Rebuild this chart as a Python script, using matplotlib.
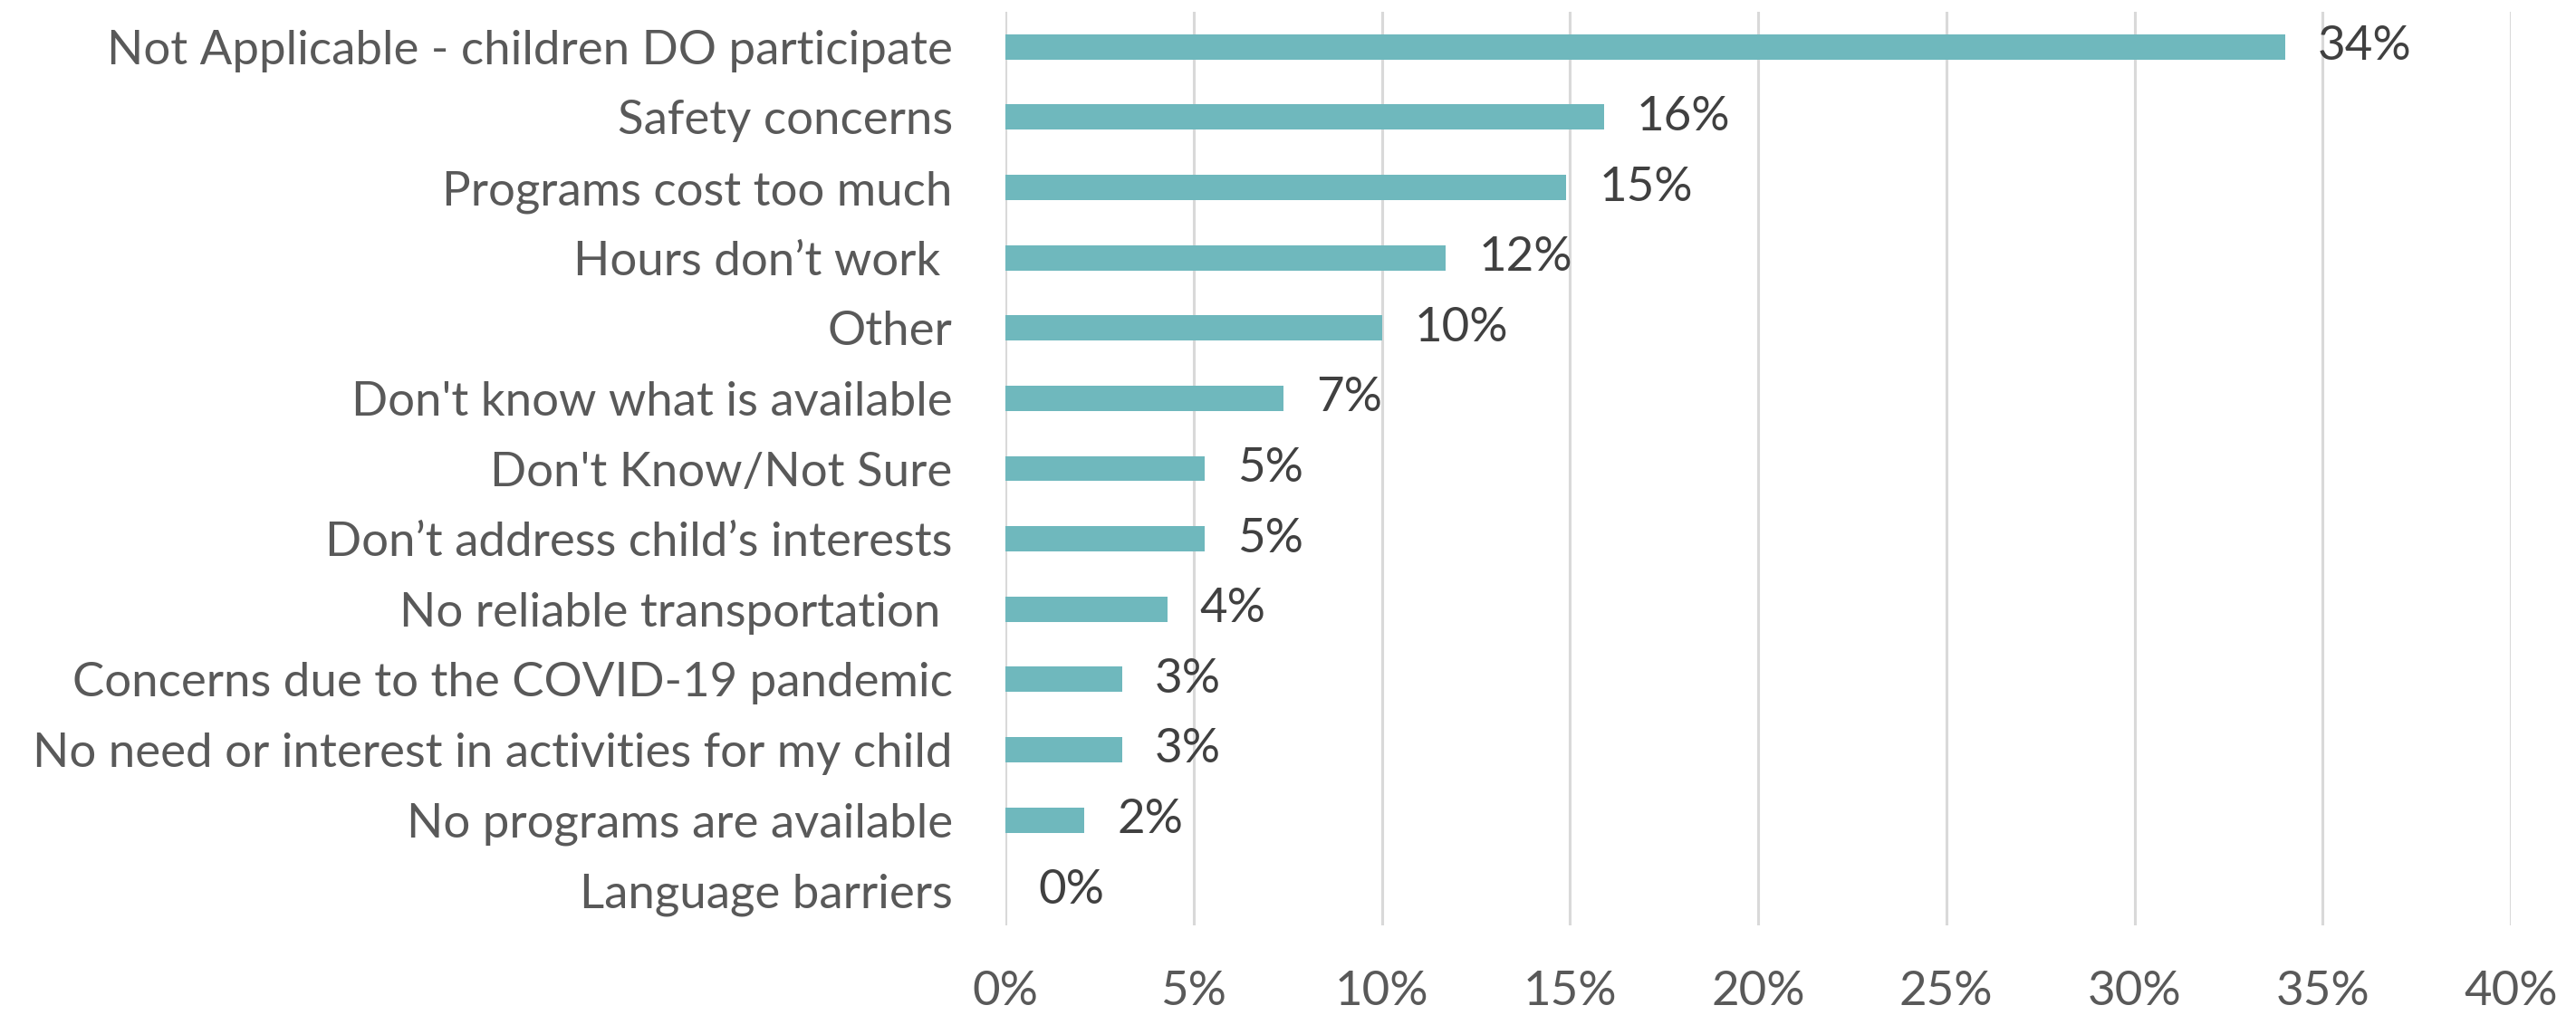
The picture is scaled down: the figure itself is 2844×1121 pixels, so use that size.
import matplotlib.pyplot as plt

# reasons children don't take part in activities (share of responses, %)
reasons = [
    "Not Applicable - children DO participate",
    "Safety concerns",
    "Programs cost too much",
    "Hours don\u2019t work ",
    "Other",
    "Don't know what is available",
    "Don't Know/Not Sure",
    "Don\u2019t address child\u2019s interests",
    "No reliable transportation ",
    "Concerns due to the COVID-19 pandemic",
    "No need or interest in activities for my child",
    "No programs are available",
    "Language barriers",
]
shares = [34.0, 15.9, 14.9, 11.7, 10.0, 7.4, 5.3, 5.3, 4.3, 3.1, 3.1, 2.1, 0.0]
x_ticks = [0, 5, 10, 15, 20, 25, 30, 35, 40]

bar_colour = '#6FB8BD'
text_colour = '#595959'
fsize = 38
plt.rcParams['font.family'] = ['Lato', 'DejaVu Sans']

fig = plt.figure(figsize=(28.44, 11.21), dpi=100)
ax = fig.add_axes([0.3903, 0.0883, 0.5844, 0.9001])

pos = list(range(len(reasons)))
bars = ax.barh(pos, shares, height=0.36, color=bar_colour, zorder=3)

for b, v in zip(bars, shares):
    ax.annotate(f"{round(v)}%", (b.get_width(), b.get_y() + b.get_height() / 2),
                xytext=(26, 0), textcoords='offset points',
                ha='left', va='center', fontsize=fsize, color='#404040')

ax.set_ylim(len(reasons) - 0.5, -0.5)
ax.set_yticks(pos)
ax.set_yticklabels(reasons, fontsize=fsize, color=text_colour)
ax.set_xlim(0, 40)
ax.set_xticks(x_ticks)
ax.set_xticklabels([f"{t}%" for t in x_ticks], fontsize=fsize, color=text_colour)
ax.tick_params(axis='both', length=0)
ax.tick_params(axis='y', pad=42)
ax.tick_params(axis='x', pad=36)

ax.grid(axis='x', color='#D9D9D9', linewidth=2.2, zorder=0)
for s in ax.spines.values():
    s.set_visible(False)

fig.savefig('out.png', dpi=100)
